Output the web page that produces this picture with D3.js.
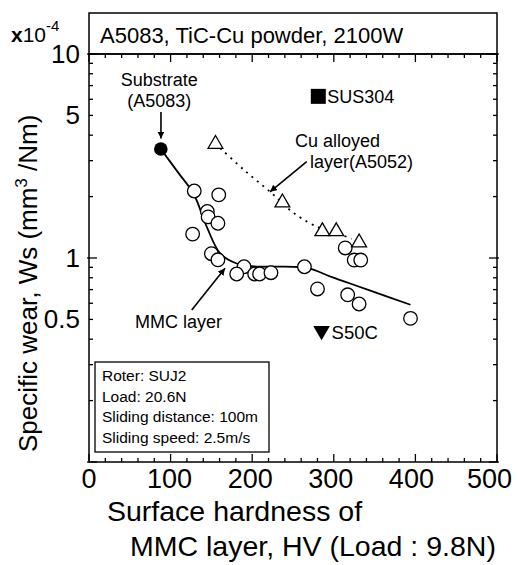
<!DOCTYPE html>
<html>
<head>
<meta charset="utf-8">
<script src="https://cdn.jsdelivr.net/npm/d3@7"></script>
<style>
  body { margin: 0; background: #fff; }
  svg { font-family: "Liberation Sans", Arial, sans-serif; }
</style>
</head>
<body>
<svg id="chart" width="518" height="565"></svg>
<script>
// MMC layer measurements (open circles)
const mmcHV = [129, 159, 145, 146, 158, 127, 150, 158, 190, 181, 203, 209, 223, 264, 280, 314, 325, 333, 317, 331, 394];
const mmcWs = [2.13, 2.04, 1.69, 1.59, 1.48, 1.31, 1.05, 0.98, 0.906, 0.835, 0.835, 0.835, 0.847, 0.906, 0.705, 1.12, 0.977, 0.977, 0.66, 0.595, 0.506];

// Cu alloyed layer (A5052), open triangles
const cuHV = [155, 237, 286, 303, 331];
const cuWs = [3.62, 1.87, 1.35, 1.35, 1.19];

// reference materials
const substrate = { hv: 88, ws: 3.42 };
const sus304 = { hv: 281, ws: 6.2 };
const s50c = { hv: 285, ws: 0.44 };

// hand drawn trend lines
const mmcFitHV = [88, 110, 128, 145, 161, 181, 202, 251, 270, 296, 320, 350, 394];
const mmcFitWs = [3.42, 2.6, 2.07, 1.4, 1.05, 0.94, 0.91, 0.905, 0.89, 0.81, 0.75, 0.68, 0.59];
const cuFitHV = [161, 190, 222, 251, 280, 305, 322];
const cuFitWs = [3.45, 2.7, 2.11, 1.66, 1.42, 1.32, 1.24];

const xTicks = [0, 100, 200, 300, 400, 500];
const yTicks = [10, 5, 1, 0.5];
const testConditions = ["Roter: SUJ2", "Load: 20.6N", "Sliding distance: 100m", "Sliding speed: 2.5m/s"];

const marginLeft = 89, marginRight = 21, marginTop = 54, marginBottom = 103;
const width = 518, height = 565;

const svg = d3.select("#chart");

const x = d3.scaleLinear().domain([0, 500]).range([marginLeft, width - marginRight]);
const y = d3.scaleLog().domain([0.1, 10]).range([height - marginBottom, marginTop]);

svg.append("defs").append("marker")
    .attr("id", "arrow")
    .attr("viewBox", "0 0 10 10")
    .attr("refX", 10).attr("refY", 5)
    .attr("markerWidth", 7).attr("markerHeight", 7)
    .attr("markerUnits", "userSpaceOnUse")
    .attr("orient", "auto")
    .append("path")
    .attr("d", "M0,0 L10,5 L0,10 z")
    .attr("fill", "#000");

// header box
svg.append("rect")
    .attr("x", x(0)).attr("y", 13)
    .attr("width", x(500) - x(0)).attr("height", y(10) - 13)
    .attr("fill", "none").attr("stroke", "#000").attr("stroke-width", 1.5);
svg.append("text")
    .attr("x", x(0) + 11).attr("y", 43)
    .attr("font-size", 22)
    .text("A5083, TiC-Cu powder, 2100W");

// ticks
const minorX = d3.range(0, 501, 20).filter(d => d % 100 !== 0);
const minorY = [0.2, 0.3, 0.4, 0.5, 0.6, 0.7, 0.8, 0.9, 2, 3, 4, 5, 6, 7, 8, 9];
const majorY = [0.1, 1, 10];

const axisG = svg.append("g").attr("stroke", "#000").attr("stroke-width", 1.3);
[[y(0.1), 1], [y(10), -1]].forEach(([yy, dir]) => {
  axisG.selectAll(null).data(xTicks).join("line")
      .attr("x1", d => x(d)).attr("x2", d => x(d))
      .attr("y1", yy).attr("y2", yy - dir * 8);
  axisG.selectAll(null).data(minorX).join("line")
      .attr("x1", d => x(d)).attr("x2", d => x(d))
      .attr("y1", yy).attr("y2", yy - dir * 4);
});
[[x(0), 1], [x(500), -1]].forEach(([xx, dir]) => {
  axisG.selectAll(null).data(majorY).join("line")
      .attr("y1", d => y(d)).attr("y2", d => y(d))
      .attr("x1", xx - dir * 2).attr("x2", xx + dir * 8);
  axisG.selectAll(null).data(minorY).join("line")
      .attr("y1", d => y(d)).attr("y2", d => y(d))
      .attr("x1", xx).attr("x2", xx + dir * 4);
});

svg.append("rect")
    .attr("x", x(0)).attr("y", y(10))
    .attr("width", x(500) - x(0)).attr("height", y(0.1) - y(10))
    .attr("fill", "none").attr("stroke", "#000").attr("stroke-width", 1.5);

// tick labels (the last one is pulled in so it stays on the page)
svg.append("g").selectAll("text").data(xTicks).join("text")
    .attr("x", d => d === 500 ? width - 6 : x(d) - d / 100)
    .attr("y", y(0.1) + 26)
    .attr("text-anchor", d => d === 500 ? "end" : "middle")
    .attr("font-size", 27)
    .text(d => d);
svg.append("g").selectAll("text").data(yTicks).join("text")
    .attr("x", x(0) - 9).attr("y", d => y(d) + 9)
    .attr("text-anchor", "end").attr("font-size", 26)
    .text(d => d);

const expo = svg.append("text").attr("x", 11).attr("y", 42).attr("font-size", 21);
expo.append("tspan").attr("font-weight", "bold").text("x");
expo.append("tspan").text("10");
expo.append("tspan").attr("font-size", 15).attr("dy", -11).text("-4");

// axis titles
svg.append("text").attr("x", 107).attr("y", 521).attr("font-size", 28.5).text("Surface hardness of");
svg.append("text").attr("x", 130).attr("y", 556).attr("font-size", 28.5).text("MMC layer, HV (Load : 9.8N)");

const yTitle = svg.append("text")
    .attr("transform", `translate(37,452) rotate(-90)`)
    .attr("font-size", 26);
yTitle.append("tspan").text("Specific wear, Ws (mm");
yTitle.append("tspan").attr("font-size", 17).attr("dy", -10).text("3");
yTitle.append("tspan").attr("dy", 10).text(" /Nm)");

// trend lines
const line = d3.line().curve(d3.curveCatmullRom).x(i => x(i[0])).y(i => y(i[1]));
svg.append("path")
    .attr("d", line(d3.zip(mmcFitHV, mmcFitWs)))
    .attr("fill", "none").attr("stroke", "#000").attr("stroke-width", 1.8);
svg.append("path")
    .attr("d", line(d3.zip(cuFitHV, cuFitWs)))
    .attr("fill", "none").attr("stroke", "#000").attr("stroke-width", 1.8)
    .attr("stroke-dasharray", "2,5");

// markers
svg.append("g").selectAll("circle").data(d3.zip(mmcHV, mmcWs)).join("circle")
    .attr("cx", d => x(d[0])).attr("cy", d => y(d[1])).attr("r", 6.8)
    .attr("fill", "#fff").attr("stroke", "#000").attr("stroke-width", 1.3);

const tri = d3.symbol().type(d3.symbolTriangle).size(95);
svg.append("g").selectAll("path").data(d3.zip(cuHV, cuWs)).join("path")
    .attr("d", tri)
    .attr("transform", d => `translate(${x(d[0])},${y(d[1])})`)
    .attr("fill", "#fff").attr("stroke", "#000").attr("stroke-width", 1.3);

svg.append("circle")
    .attr("cx", x(substrate.hv)).attr("cy", y(substrate.ws)).attr("r", 6.8)
    .attr("fill", "#000");

svg.append("path")
    .attr("d", d3.symbol().type(d3.symbolSquare).size(225))
    .attr("transform", `translate(${x(sus304.hv)},${y(sus304.ws)})`)
    .attr("fill", "#000");
svg.append("text")
    .attr("x", x(sus304.hv) + 9).attr("y", y(sus304.ws) + 7)
    .attr("font-size", 18).text("SUS304");

svg.append("path")
    .attr("d", d3.symbol().type(d3.symbolTriangle).size(120))
    .attr("transform", `translate(${x(s50c.hv)},${y(s50c.ws)}) rotate(180)`)
    .attr("fill", "#000");
svg.append("text")
    .attr("x", x(s50c.hv) + 10).attr("y", y(s50c.ws) + 8)
    .attr("font-size", 18.5).text("S50C");

// annotations
function label(lines, hv, ws, anchor) {
  const t = svg.append("text").attr("font-size", 18).attr("text-anchor", anchor);
  lines.forEach((s, i) => {
    t.append("tspan").attr("x", x(hv[i])).attr("y", y(ws[i])).text(s);
  });
}
label(["Substrate", "(A5083)"], [86, 86], [6.96, 5.5], "middle");
label(["Cu alloyed", "layer(A5052)"], [252.5, 270.8], [3.5, 2.76], "start");
label(["MMC layer"], [56.4], [0.454], "start");

function arrow(hv0, ws0, hv1, ws1) {
  svg.append("line")
      .attr("x1", x(hv0)).attr("y1", y(ws0))
      .attr("x2", x(hv1)).attr("y2", y(ws1))
      .attr("stroke", "#000").attr("stroke-width", 1.6)
      .attr("marker-end", "url(#arrow)");
}
arrow(88.2, 5.2, 88.2, 3.85);
arrow(266.8, 2.97, 221.8, 2.11);
arrow(125.9, 0.556, 166.7, 0.89);

// test conditions box
svg.append("rect")
    .attr("x", 95).attr("y", 362)
    .attr("width", 174).attr("height", 90)
    .attr("fill", "#fff").attr("stroke", "#000").attr("stroke-width", 1.3);
svg.append("g").selectAll("text").data(testConditions).join("text")
    .attr("x", 102).attr("y", (d, i) => 381 + i * 20.7)
    .attr("font-size", 15.5)
    .text(d => d);
</script>
</body>
</html>
